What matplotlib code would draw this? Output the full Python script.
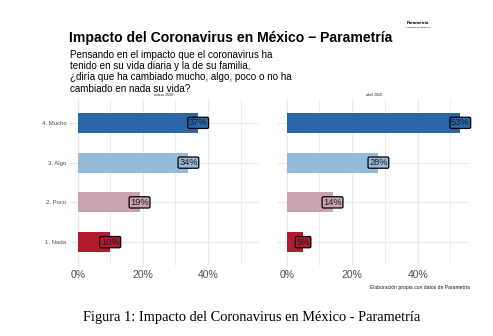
import matplotlib
matplotlib.use("Agg")
import matplotlib.pyplot as plt
import numpy as np

categories = ["1. Nada", "2. Poco", "3. Algo", "4. Mucho"]
periods = ["marzo 2020", "abril 2020"]
values_marzo = [10, 19, 34, 37]
values_abril = [5, 14, 28, 53]
colors = ["#b01c2e", "#c9a3ae", "#97bad8", "#2a66a8"]
xticks = [0, 20, 40]
xticklabels = ["0%", "20%", "40%"]

title = "Impacto del Coronavirus en México \u2212 Parametría"
subtitle_lines = ["Pensando en el impacto que el coronavirus ha",
                  "tenido en su vida diaria y la de su familia,",
                  "¿diría que ha cambiado mucho, algo, poco o no ha",
                  "cambiado en nada su vida?"]
caption = "Elaboración propia con datos de Parametría"
figcap = "Figura 1: Impacto del Coronavirus en México - Parametría"

W, H = 493, 336
plt.rcParams['font.family'] = ['Liberation Sans', 'DejaVu Sans']
fig = plt.figure(figsize=(W / 100, H / 100), dpi=100)

def fx(x):
    return x / W

def fy(y):
    return 1 - y / H

panel_px = [(69, 259), (278, 469)]
top_px, bot_px = 99, 266
allvals = values_marzo + values_abril
xmax = max(allvals)
xlim = (-0.05 * xmax, 1.05 * xmax)

for i, (vals, per) in enumerate(zip([values_marzo, values_abril], periods)):
    x0, x1 = panel_px[i]
    ax = fig.add_axes([fx(x0), fy(bot_px), (x1 - x0) / W, (bot_px - top_px) / H])
    ax.set_xlim(*xlim)
    ax.set_ylim(0.4, 4.6)
    for s in ax.spines.values():
        s.set_visible(False)
    ax.set_xticks(xticks)
    ax.set_xticks([10, 30, 50], minor=True)
    ax.set_yticks(range(1, len(categories) + 1))
    ax.grid(True, which='major', color='#ebebeb', lw=1.0)
    ax.grid(True, which='minor', axis='x', color='#ebebeb', lw=0.6)
    ax.set_axisbelow(True)
    ax.tick_params(which='both', length=0)
    ax.set_xticklabels(xticklabels, fontsize=7.5, color='#4d4d4d')
    ax.tick_params(axis='x', pad=3)
    if i == 0:
        ax.set_yticklabels(categories, fontsize=4.3, color='#4d4d4d')
        ax.tick_params(axis='y', pad=2)
    else:
        ax.set_yticklabels([])
    ypos = np.arange(1, len(categories) + 1)
    ax.barh(ypos, vals, height=0.5, color=colors, zorder=2)
    for y, v, c in zip(ypos, vals, colors):
        ax.text(v, y, f"{v}%", ha='center', va='center', fontsize=6.7, color='#1a1a1a',
                zorder=3,
                bbox=dict(boxstyle='round,pad=0.12,rounding_size=0.15', fc=c, ec='black', lw=0.9))
    fig.text(fx((x0 + x1) / 2), fy(96), per, fontsize=2.6, ha='center', va='baseline', color='#1a1a1a')

fig.text(fx(69), fy(42.3), title, fontsize=10.1, fontweight='bold', ha='left', va='baseline')
for k, line in enumerate(subtitle_lines):
    fig.text(fx(69.5), fy(58.3 + 11.1 * k), line, fontsize=7.1, ha='left', va='baseline')
fig.text(fx(470), fy(289), caption, fontsize=3.6, ha='right', va='baseline', color='#1a1a1a')
fig.text(fx(252), fy(321.5), figcap, fontsize=10.4, ha='center', va='baseline',
         family=['Liberation Serif', 'DejaVu Serif'])
fig.text(fx(418), fy(24), "Parametría", fontsize=3.2, fontweight='bold', ha='center', va='baseline')
fig.text(fx(418), fy(27.5), "investigación estratégica", fontsize=1.6, ha='center', va='baseline')

fig.savefig("out.png", dpi=100)
